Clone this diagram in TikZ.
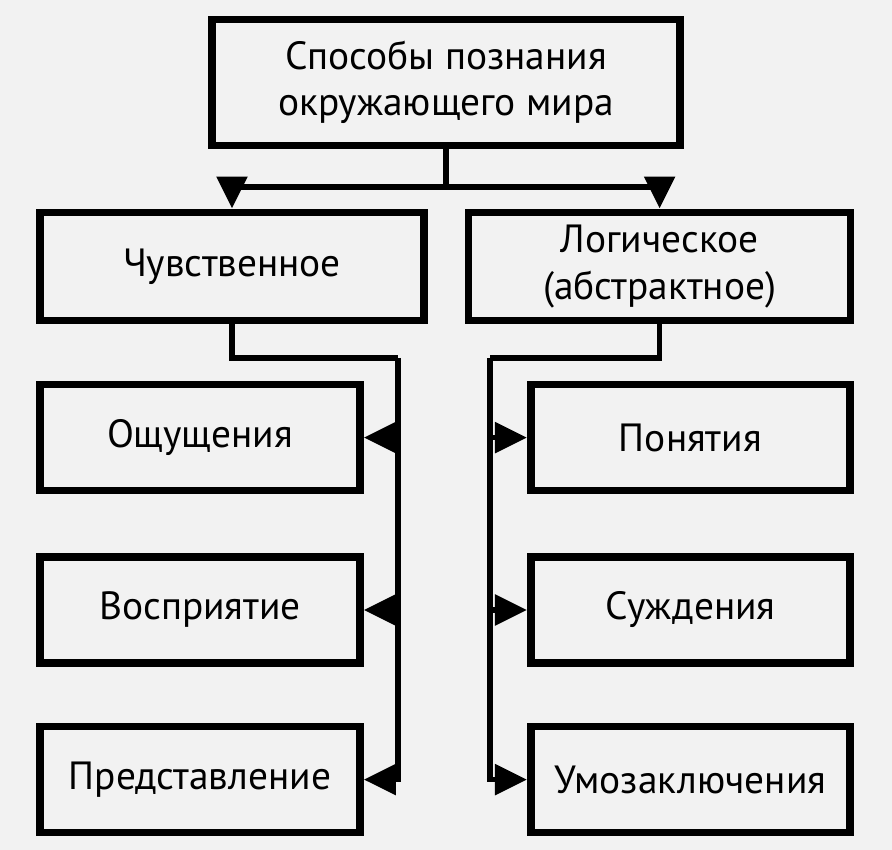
\documentclass[tikz,border=0pt]{standalone}
\usepackage{fontspec}
\setmainfont{PT Sans}
\usetikzlibrary{arrows.meta}

\begin{document}
\begin{tikzpicture}[every node/.style={font=\fontsize{28}{33}\selectfont}, >={Triangle[length=8mm, width=7.5mm]}, blk/.style={draw, line width=5.5pt, inner sep=2pt, align=center, minimum height=2.65cm}, con/.style={line width=4pt}]
	\fill[black!5] (0,0) rectangle (22.3,-21.25);
	\useasboundingbox (0,0) rectangle (22.3,-21.25);
	% top level
	\node[blk, minimum width=11.7cm, minimum height=3.15cm] (ways) at (11.15,-2.06) {Способы познания\\окружающего мира};
	\node[blk, minimum width=9.6cm, minimum height=2.7cm] (sens) at (5.8,-6.66) {Чувственное};
	\node[blk, minimum width=9.55cm, minimum height=2.7cm] (logic) at (16.49,-6.66) {Логическое\\(абстрактное)};
	\coordinate (split) at (11.15,-4.675);
	\draw[con] (ways) -- (split);
	\draw[con, ->] (split) -| (sens);
	\draw[con, ->] (split) -| (logic);
	% sensual forms
	\node[blk, minimum width=8cm] (feel) at (5.0,-10.94) {Ощущения};
	\node[blk, minimum width=8cm] (perc) at (5.0,-15.25) {Восприятие};
	\node[blk, minimum width=8cm] (repr) at (5.0,-19.49) {Представление};
	\coordinate (lbus) at (9.95,-8.95);
	\draw[con] (sens) |- (lbus);
	\draw[con, ->] (lbus) |- (repr);
	\draw[con, ->] (lbus |- feel) -- (feel);
	\draw[con, ->] (lbus |- perc) -- (perc);
	% logical forms
	\node[blk, minimum width=7.98cm] (notion) at (17.26,-10.94) {Понятия};
	\node[blk, minimum width=7.98cm] (judg) at (17.26,-15.25) {Суждения};
	\node[blk, minimum width=7.98cm] (infer) at (17.26,-19.49) {Умозаключения};
	\coordinate (rbus) at (12.25,-8.95);
	\draw[con] (logic) |- (rbus);
	\draw[con, ->] (rbus) |- (infer);
	\draw[con, ->] (rbus |- notion) -- (notion);
	\draw[con, ->] (rbus |- judg) -- (judg);
\end{tikzpicture}
\end{document}
